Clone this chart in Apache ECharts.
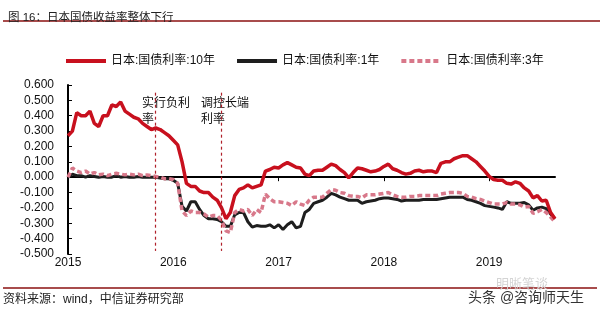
<!DOCTYPE html>
<html><head><meta charset="utf-8">
<script src="https://cdn.jsdelivr.net/npm/echarts@6/dist/echarts.min.js"></script>
<style>html,body{margin:0;padding:0;background:#fff}#c{width:600px;height:316px}</style>
</head><body><div id="c"></div>
<script>
// semi-monthly sample dates, Jan 2015 – Aug 2019 (1st and 15th of each month)
const years = [2015, 2016, 2017, 2018, 2019];
const yearTickLabels = ['2015', '2016', '2017', '2018', '2019'];
const dates = [];
years.forEach(function (y) {
  for (let m = 1; m <= 12; m++) {
    if (y === 2019 && m > 8) break;
    const mm = (m < 10 ? '0' : '') + m;
    dates.push(y + '-' + mm + '-01');
    dates.push(y + '-' + mm + '-15');
  }
});

const yield10y = [
  0.27, 0.30, 0.42, 0.40, 0.40, 0.43, 0.35, 0.33, 0.40, 0.40,
  0.47, 0.46, 0.49, 0.43, 0.41, 0.39, 0.38, 0.35, 0.33, 0.31,
  0.32, 0.31, 0.29, 0.27, 0.24, 0.21, 0.10, -0.04, -0.06, -0.06,
  -0.09, -0.10, -0.10, -0.13, -0.15, -0.20, -0.27, -0.23, -0.12, -0.08,
  -0.07, -0.05, -0.07, -0.06, -0.05, 0.04, 0.05, 0.065, 0.06, 0.08,
  0.095, 0.08, 0.065, 0.06, 0.02, 0.01, 0.04, 0.045, 0.045, 0.065,
  0.085, 0.075, 0.05, 0.03, -0.005, 0.03, 0.06, 0.055, 0.045, 0.035,
  0.04, 0.05, 0.07, 0.085, 0.055, 0.045, 0.03, 0.02, 0.025, 0.04,
  0.045, 0.035, 0.04, 0.04, 0.03, 0.09, 0.10, 0.10, 0.12, 0.13,
  0.14, 0.14, 0.12, 0.10, 0.07, 0.04, 0.005, -0.015, -0.02, -0.02,
  -0.04, -0.045, -0.03, -0.04, -0.07, -0.09, -0.135, -0.12, -0.155, -0.15,
  -0.23, -0.27
];
const yield1y = [
  0.0, 0.02, 0.01, 0.01, 0.0, 0.01, 0.005, 0.0, 0.005, 0.0,
  0.0, 0.01, 0.0, 0.005, 0.0, 0.0, 0.005, 0.0, 0.0, 0.0,
  0.0, -0.005, -0.01, -0.01, -0.02, -0.04, -0.19, -0.22, -0.16, -0.16,
  -0.21, -0.25, -0.27, -0.27, -0.275, -0.29, -0.32, -0.32, -0.245, -0.23,
  -0.23, -0.29, -0.325, -0.315, -0.32, -0.32, -0.31, -0.33, -0.31, -0.34,
  -0.31, -0.29, -0.33, -0.32, -0.23, -0.21, -0.17, -0.16, -0.15, -0.13,
  -0.105, -0.115, -0.13, -0.14, -0.15, -0.15, -0.15, -0.17, -0.16, -0.155,
  -0.15, -0.14, -0.135, -0.135, -0.14, -0.145, -0.155, -0.15, -0.15, -0.15,
  -0.15, -0.145, -0.145, -0.145, -0.145, -0.14, -0.135, -0.13, -0.13, -0.13,
  -0.13, -0.145, -0.15, -0.16, -0.17, -0.185, -0.19, -0.195, -0.2, -0.21,
  -0.16, -0.17, -0.17, -0.17, -0.165, -0.18, -0.215, -0.2, -0.195, -0.205,
  -0.24, -0.27
];
const yield3y = [
  0.0, 0.06, 0.04, 0.03, 0.04, 0.02, 0.03, 0.015, 0.02, 0.01,
  0.02, 0.025, 0.02, 0.015, 0.02, 0.015, 0.02, 0.01, 0.015, 0.01,
  0.005, 0.0, -0.01, -0.01, -0.015, -0.04, -0.22, -0.25, -0.22, -0.23,
  -0.23, -0.24, -0.26, -0.25, -0.25, -0.28, -0.35, -0.36, -0.23, -0.21,
  -0.22, -0.21, -0.25, -0.21, -0.23, -0.11, -0.14, -0.16, -0.16, -0.165,
  -0.17, -0.185, -0.16, -0.175, -0.185, -0.15, -0.13, -0.13, -0.13, -0.105,
  -0.08, -0.085, -0.1, -0.105, -0.12, -0.125, -0.125, -0.135, -0.115, -0.115,
  -0.115, -0.11, -0.105, -0.1, -0.115, -0.125, -0.13, -0.13, -0.125, -0.125,
  -0.12, -0.12, -0.12, -0.12, -0.12, -0.11, -0.105, -0.10, -0.10, -0.10,
  -0.105, -0.125, -0.13, -0.14, -0.145, -0.155, -0.165, -0.175, -0.175, -0.175,
  -0.165, -0.175, -0.175, -0.18, -0.195, -0.19, -0.235, -0.225, -0.21, -0.23,
  -0.26, -0.29
];
const seriesNames = ['日本:国债利率:10年', '日本:国债利率:1年', '日本:国债利率:3年'];
const eventDates = ['2015-11-01', '2016-06-15'];
const eventLabels = [['实行负利', '率'], ['调控长端', '利率']];

const FONT = '"Liberation Sans", Arial, "Noto Sans CJK SC", sans-serif';
const chart = echarts.init(document.getElementById('c'), null, { renderer: 'canvas' });

const markLineData = eventDates.map(function (d) {
  return [{ coord: [d, 0.55] }, { coord: [d, -0.48] }];
});

chart.setOption({
  animation: false,
  backgroundColor: '#fff',
  textStyle: { fontFamily: FONT },
  title: {
    text: '图 16：日本国债收益率整体下行',
    left: 3, top: 7,
    textStyle: { fontSize: 11.5, fontWeight: 'normal', color: '#222', fontFamily: FONT }
  },
  legend: {
    data: seriesNames,
    left: 59, top: 50,
    itemWidth: 40, itemHeight: 12, itemGap: 20,
    itemStyle: { opacity: 0 },
    lineStyle: { width: 4 },
    textStyle: { fontSize: 12, color: '#111', fontFamily: FONT }
  },
  grid: { left: 68, right: 45, top: 85, bottom: 62, containLabel: false },
  xAxis: {
    type: 'category',
    data: dates,
    boundaryGap: false,
    axisLine: { onZero: true, lineStyle: { color: '#000', width: 2 } },
    axisTick: {
      show: true, length: 4, inside: false,
      interval: function (i, v) { return v.slice(5) === '01-01'; },
      lineStyle: { color: '#000' }
    },
    axisLabel: {
      interval: function (i, v) { return v.slice(5) === '01-01'; },
      formatter: function (v) { return yearTickLabels[years.indexOf(+v.slice(0, 4))]; },
      margin: 3, fontSize: 12, color: '#111', fontFamily: FONT
    },
    splitLine: { show: false }
  },
  yAxis: {
    type: 'value',
    min: -0.5, max: 0.6, interval: 0.1,
    axisLine: { show: true, lineStyle: { color: '#000', width: 2 } },
    axisTick: { show: true, inside: true, length: 4, lineStyle: { color: '#000' } },
    axisLabel: {
      formatter: function (v) { return v.toFixed(3); },
      fontSize: 12, color: '#111', margin: 14, fontFamily: FONT
    },
    splitLine: { show: false }
  },
  series: [
    {
      name: seriesNames[1], type: 'line', data: yield1y, symbol: 'none',
      lineStyle: { color: '#1e1e1e', width: 3 }, itemStyle: { color: '#1e1e1e' }, z: 2
    },
    {
      name: seriesNames[2], type: 'line', data: yield3y, symbol: 'none',
      lineStyle: { color: '#d8788a', width: 3.5, type: [5, 3] }, itemStyle: { color: '#d8788a' }, z: 3
    },
    {
      name: seriesNames[0], type: 'line', data: yield10y, symbol: 'none',
      lineStyle: { color: '#c8101e', width: 3.5 }, itemStyle: { color: '#c8101e' }, z: 4,
      markLine: {
        silent: true, symbol: 'none', label: { show: false },
        emphasis: { disabled: true },
        lineStyle: { color: '#b0202a', width: 1.2, type: [3, 3], opacity: 1 },
        data: markLineData
      }
    }
  ],
  graphic: [
    { type: 'line', shape: { x1: 3, y1: 21, x2: 600, y2: 21 }, style: { stroke: '#8b1010', lineWidth: 1.5 } },
    { type: 'line', shape: { x1: 3, y1: 288, x2: 597, y2: 288 }, style: { stroke: '#8b1010', lineWidth: 1.5 } },
    { type: 'text', left: 3, top: 294, style: { text: '资料来源：wind，中信证券研究部', font: '12px ' + FONT, fill: '#222' } },
    { type: 'text', left: 142, top: 96, style: { text: eventLabels[0].join('\n'), font: '12px ' + FONT, fill: '#111', lineHeight: 16 } },
    { type: 'text', left: 201, top: 96, style: { text: eventLabels[1].join('\n'), font: '12px ' + FONT, fill: '#111', lineHeight: 16 } },
    { type: 'text', left: 496, top: 278, style: { text: '明晰笔谈', font: '13px ' + FONT, fill: '#d4d4d4' } },
    { type: 'text', left: 467, top: 290, style: { text: '头条 @咨询师天生', font: '14px ' + FONT, fill: '#333', stroke: '#fff', lineWidth: 2 } }
  ]
});
</script>
</body></html>
